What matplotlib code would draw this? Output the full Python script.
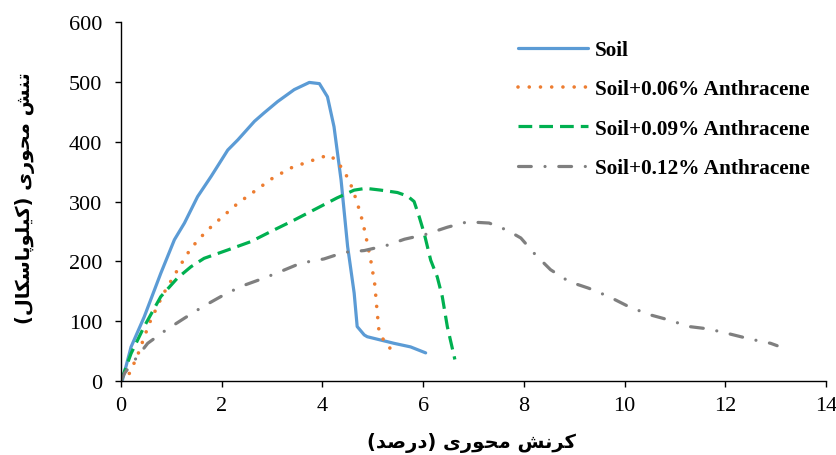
import matplotlib
matplotlib.use("Agg")
import matplotlib.pyplot as plt

# ---------------- data ----------------
soil_x = [0, 0.03, 0.2, 0.46, 0.79, 1.06, 1.26, 1.52, 1.79, 2.12, 2.32, 2.65, 2.84, 3.11, 3.44,
          3.74, 3.94, 4.1, 4.23, 4.37, 4.5, 4.63, 4.69, 4.83, 4.89, 5.42, 5.75, 6.05]
soil_y = [0, 2, 57, 107, 180, 236, 264, 308, 342, 386, 403, 434, 448, 467, 487,
          499, 497, 475, 425, 336, 225, 147, 91, 77, 74, 63, 57, 47]

a006_x = [0, 0.17, 0.33, 0.56, 0.83, 1.16, 1.39, 1.69, 1.98, 2.32, 2.65, 3.01, 3.37, 3.74, 4.13,
          4.3, 4.53, 4.68, 4.8, 4.89, 4.97, 5.04, 5.08, 5.12, 5.21, 5.34, 5.48]
a006_y = [0, 13, 43, 96, 144, 191, 222, 250, 272, 297, 317, 339, 356, 367, 378,
          367, 336, 301, 266, 231, 197, 161, 122, 86, 69, 55, 41]

a009_x = [0, 0.2, 0.46, 0.79, 1.12, 1.39, 1.65, 2.12, 2.58, 2.98, 3.44, 3.9, 4.29, 4.63, 4.86,
          5.16, 5.49, 5.69, 5.82, 5.92, 6.02, 6.15, 6.28, 6.38, 6.48, 6.63]
a009_y = [0, 46, 91, 141, 172, 191, 205, 219, 233, 250, 269, 289, 306, 319, 322,
          319, 315, 309, 300, 275, 247, 202, 174, 141, 91, 36]

a012_x = [0, 0.07, 0.3, 0.53, 0.89, 1.26, 1.62, 1.98, 2.38, 2.84, 3.17, 3.57, 4.03, 4.43, 4.83,
          5.29, 5.63, 6.05, 6.48, 6.88, 7.31, 7.67, 7.94, 8.23, 8.53, 8.9, 9.29, 9.69, 10.09,
          10.49, 10.88, 11.28, 11.67, 12.07, 12.5, 12.9, 13.03]
a012_y = [0, 13, 38, 63, 85, 105, 124, 141, 158, 172, 183, 197, 204, 215, 218,
          227, 237, 245, 257, 266, 264, 252, 239, 211, 186, 166, 155, 141, 124,
          111, 102, 91, 87, 79, 70, 63, 59]

series_labels = ["Soil", "Soil+0.06% Anthracene", "Soil+0.09% Anthracene", "Soil+0.12% Anthracene"]
x_ticks = [0, 2, 4, 6, 8, 10, 12, 14]
y_ticks = [0, 100, 200, 300, 400, 500, 600]

# ---------------- minimal Persian shaping (presentation forms) ----------------
FORMS = {
    '\u0627': ('\uFE8D', '\uFE8E', None, None),
    '\u062A': ('\uFE95', '\uFE96', '\uFE97', '\uFE98'),
    '\u062D': ('\uFEA1', '\uFEA2', '\uFEA3', '\uFEA4'),
    '\u062F': ('\uFEA9', '\uFEAA', None, None),
    '\u0631': ('\uFEAD', '\uFEAE', None, None),
    '\u0633': ('\uFEB1', '\uFEB2', '\uFEB3', '\uFEB4'),
    '\u0634': ('\uFEB5', '\uFEB6', '\uFEB7', '\uFEB8'),
    '\u0635': ('\uFEB9', '\uFEBA', '\uFEBB', '\uFEBC'),
    '\u0644': ('\uFEDD', '\uFEDE', '\uFEDF', '\uFEE0'),
    '\u0645': ('\uFEE1', '\uFEE2', '\uFEE3', '\uFEE4'),
    '\u0646': ('\uFEE5', '\uFEE6', '\uFEE7', '\uFEE8'),
    '\u0648': ('\uFEED', '\uFEEE', None, None),
    '\u06A9': ('\uFB8E', '\uFB8F', '\uFB90', '\uFB91'),
    '\u067E': ('\uFB56', '\uFB57', '\uFB58', '\uFB59'),
    '\u06CC': ('\uFBFC', '\uFBFD', '\uFBFE', '\uFBFF'),
}


def dual(c):
    return c in FORMS and FORMS[c][2] is not None


def vis(word):
    """Shape a Persian word and return it in visual (left-to-right) order."""
    out = []
    n = len(word)
    for i, c in enumerate(word):
        if c not in FORMS:
            out.append(c)
            continue
        prev_j = i > 0 and dual(word[i - 1])
        next_j = dual(c) and i < n - 1 and word[i + 1] in FORMS
        iso, fin, ini, med = FORMS[c]
        if prev_j and next_j:
            out.append(med)
        elif prev_j:
            out.append(fin)
        elif next_j:
            out.append(ini)
        else:
            out.append(iso)
    return ''.join(reversed(out))


# logical: "کرنش محوری (درصد)"  -> visual order left to right
xlabel_text = "(" + vis("درصد") + ") " + vis("محوری") + " " + vis("کرنش")
# logical: "تنش محوری (کیلوپاسکال)" -> visual order (rotated: bottom to top)
ylabel_text = "(" + vis("کیلوپاسکال") + ") " + vis("محوری") + " " + vis("تنش")

# ---------------- figure ----------------
plt.rcParams['font.family'] = ['Liberation Serif', 'DejaVu Sans']
fig = plt.figure(figsize=(8.37, 4.56), dpi=100)
L, R, T, B = 121, 826, 23, 382
ax = fig.add_axes([L / 837, 1 - B / 456, (R - L) / 837, (B - T) / 456])

c_blue, c_orange, c_green, c_gray = '#5B9BD5', '#ED7D31', '#00B050', '#7F7F7F'

ax.plot(soil_x, soil_y, color=c_blue, lw=2.3, solid_capstyle='round', solid_joinstyle='round',
        label=series_labels[0])
ax.plot(a006_x, a006_y, color=c_orange, lw=2.6, linestyle=(0, (0.01, 3.1)),
        dash_capstyle='round', label=series_labels[1])
ax.plot(a009_x, a009_y, color=c_green, lw=2.3, linestyle=(0, (4.3, 2.2)),
        dash_capstyle='butt', label=series_labels[2])
ax.plot(a012_x, a012_y, color=c_gray, lw=2.3, linestyle=(0, (4.0, 4.3, 0.01, 4.3)),
        dash_capstyle='round', label=series_labels[3])

ax.set_xlim(0, 14)
ax.set_ylim(0, 600)
ax.set_xticks(x_ticks)
ax.set_yticks(y_ticks)
ax.tick_params(axis='both', direction='out', length=4.5, width=1, labelsize=16,
               colors='black')
ax.tick_params(axis='x', pad=6)
ax.tick_params(axis='y', pad=9)
for s in ['top', 'right']:
    ax.spines[s].set_visible(False)
for s in ['left', 'bottom']:
    ax.spines[s].set_linewidth(1.0)
    ax.spines[s].set_color('black')
for lab in ax.get_xticklabels() + ax.get_yticklabels():
    lab.set_fontfamily('Liberation Serif')

leg = ax.legend(loc='upper left', bbox_to_anchor=(518 / 837, 1 - 41 / 456),
                bbox_transform=fig.transFigure, frameon=False,
                prop={'family': 'Liberation Serif', 'weight': 'bold', 'size': 15.3},
                handlelength=3.3, handletextpad=0.33, labelspacing=0.91, borderpad=0,
                borderaxespad=0)

fig.text(471 / 837, 1 - 443 / 456, xlabel_text, ha='center', va='center',
         fontsize=14, fontweight='bold', family=['DejaVu Sans'])
fig.text(25 / 837, 1 - 198 / 456, ylabel_text, ha='center', va='center', rotation=90,
         fontsize=14, fontweight='bold', family=['DejaVu Sans'])

fig.savefig('out.png', dpi=100)
